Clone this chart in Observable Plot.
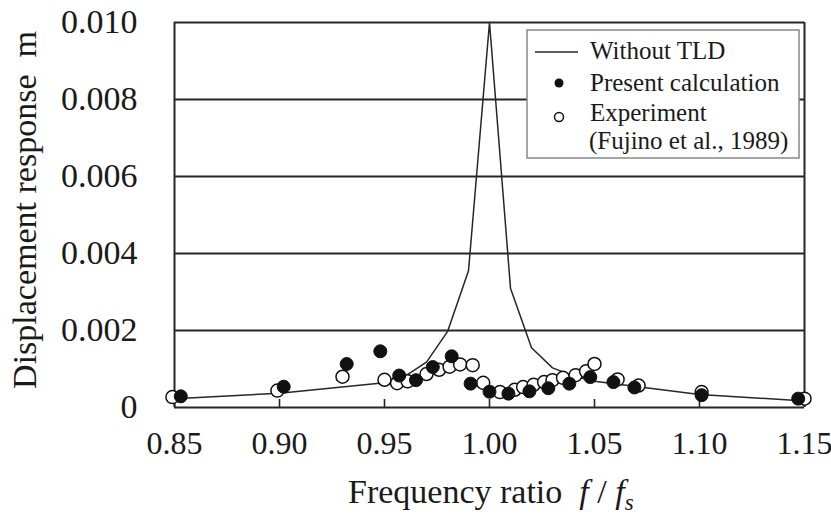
<!DOCTYPE html>
<html>
<head>
<meta charset="utf-8">
<script src="https://cdn.jsdelivr.net/npm/d3@7"></script>
<script src="https://cdn.jsdelivr.net/npm/@observablehq/plot@0.6"></script>
<style>
  html, body { margin: 0; padding: 0; background: #fff; }
  #chart { width: 831px; height: 516px; }
  #chart svg, #chart svg text { font-family: 'Liberation Serif', 'Times New Roman', Times, serif !important; }
</style>
</head>
<body>
<div id="chart"></div>
<script>
// ---- data ----
const xTicks = [0.85, 0.90, 0.95, 1.00, 1.05, 1.10, 1.15];
const yTicks = [0, 0.002, 0.004, 0.006, 0.008, 0.010];

// Without TLD (line)
const noTldRatio = [0.85, 0.90, 0.95, 0.96, 0.97, 0.98, 0.99, 1.00, 1.01, 1.02, 1.03, 1.04, 1.05, 1.10, 1.15];
const noTldDisp  = [0.00023, 0.00037, 0.00064, 0.00082, 0.00118, 0.00197, 0.00355, 0.01000, 0.00310, 0.00155, 0.00103, 0.00082, 0.00068, 0.00034, 0.00017];

// Present calculation (filled circles)
const calcRatio = [0.853, 0.902, 0.932, 0.948, 0.957, 0.965, 0.973, 0.982, 0.991, 1.000, 1.009, 1.019, 1.028, 1.038, 1.048, 1.059, 1.069, 1.101, 1.147];
const calcDisp  = [0.00029, 0.00054, 0.00113, 0.00146, 0.00083, 0.00071, 0.00105, 0.00133, 0.00062, 0.00041, 0.00036, 0.00042, 0.00050, 0.00062, 0.00079, 0.00066, 0.00052, 0.00032, 0.00023];

// Experiment (Fujino et al., 1989) (open circles)
const expRatio = [0.849, 0.899, 0.930, 0.950, 0.956, 0.961, 0.970, 0.976, 0.981, 0.986, 0.992, 0.997, 1.005, 1.012, 1.016, 1.021, 1.026, 1.030, 1.035, 1.041, 1.046, 1.050, 1.061, 1.071, 1.101, 1.150];
const expDisp  = [0.00027, 0.00044, 0.00080, 0.00072, 0.00063, 0.00068, 0.00087, 0.00098, 0.00106, 0.00112, 0.00110, 0.00064, 0.00040, 0.00046, 0.00053, 0.00059, 0.00066, 0.00071, 0.00077, 0.00084, 0.00094, 0.00113, 0.00073, 0.00057, 0.00040, 0.00023];

const legendLabels = ["Without TLD", "Present calculation", "Experiment", "(Fujino et al., 1989)"];
const yTitle = "Displacement response  m";

const noTld = noTldRatio.map((x, i) => ({x, y: noTldDisp[i]}));
const calc = calcRatio.map((x, i) => ({x, y: calcDisp[i]}));
const exp = expRatio.map((x, i) => ({x, y: expDisp[i]}));

const FONT = "'Liberation Serif', 'Times New Roman', Times, serif";
const INK = "#1a1a1a";
const LINE = "#262626";

const chart = Plot.plot({
  width: 831,
  height: 516,
  marginLeft: 174,
  marginRight: 27,
  marginTop: 22,
  marginBottom: 109,
  style: { fontFamily: FONT, fontSize: "33px", color: INK, background: "#fff", overflow: "visible" },
  x: { domain: [0.85, 1.15] },
  y: { domain: [0, 0.010] },
  marks: [
    Plot.ruleY(yTicks.slice(1), { stroke: LINE, strokeWidth: 1.8 }),
    Plot.ruleY([0], { stroke: LINE, strokeWidth: 2 }),
    Plot.ruleX([0.85, 1.15], { stroke: LINE, strokeWidth: 2 }),
    Plot.tickX(xTicks, { x: d => d, insetTop: 377, stroke: LINE, strokeWidth: 1.6 }),
    Plot.axisY(yTicks, {
      tickSize: 0, tickPadding: 37, fontSize: 34, fontFamily: FONT,
      tickFormat: d => d === 0 ? "0" : d.toFixed(3),
      label: null
    }),
    Plot.axisX(xTicks, {
      tickSize: 0, tickPadding: 24, fontSize: 32, fontFamily: FONT,
      tickFormat: d => d.toFixed(2), label: null
    }),
    Plot.line(noTld, { x: "x", y: "y", stroke: LINE, strokeWidth: 1.5 }),
    Plot.dot(exp, { x: "x", y: "y", r: 6.5, fill: "#fff", stroke: "#111", strokeWidth: 1.5 }),
    Plot.dot(calc, { x: "x", y: "y", r: 6.5, fill: "#111", stroke: "#111", strokeWidth: 1 })
  ]
});

document.getElementById("chart").appendChild(chart);

const svg = d3.select(chart);

// ---- y-axis title ----
svg.append("text")
  .attr("transform", "translate(36,210) rotate(-90)")
  .attr("text-anchor", "middle")
  .attr("font-family", FONT).attr("font-size", 34).attr("fill", INK)
  .style("white-space", "pre")
  .text(yTitle);

// ---- x-axis title with italic f / f_s ----
const xt = svg.append("text")
  .attr("x", 348).attr("y", 503).attr("text-anchor", "start")
  .attr("font-family", FONT).attr("font-size", 34).attr("fill", INK)
  .style("white-space", "pre");
xt.append("tspan").text("Frequency ratio  ");
xt.append("tspan").attr("font-style", "italic").text("f");
xt.append("tspan").text(" / ");
xt.append("tspan").attr("font-style", "italic").text("f");
xt.append("tspan").attr("font-style", "italic").attr("font-size", 23).attr("dy", 7).text("s");

// ---- legend ----
const lg = svg.append("g").attr("font-family", FONT).attr("font-size", 25).attr("fill", INK).attr("text-anchor", "start");
lg.append("rect").attr("x", 527).attr("y", 30).attr("width", 272).attr("height", 128)
  .attr("fill", "#fff").attr("stroke", "#888").attr("stroke-width", 1.5);
lg.append("line").attr("x1", 535).attr("x2", 578).attr("y1", 52).attr("y2", 52)
  .attr("stroke", LINE).attr("stroke-width", 1.5);
lg.append("circle").attr("cx", 559).attr("cy", 83).attr("r", 4.5).attr("fill", "#111");
lg.append("circle").attr("cx", 559).attr("cy", 117).attr("r", 4.5).attr("fill", "#fff").attr("stroke", "#111").attr("stroke-width", 1.5);
lg.append("text").attr("x", 590).attr("y", 59).text(legendLabels[0]);
lg.append("text").attr("x", 590).attr("y", 91).text(legendLabels[1]);
lg.append("text").attr("x", 590).attr("y", 121).text(legendLabels[2]);
lg.append("text").attr("x", 589).attr("y", 149).text(legendLabels[3]);
</script>
</body>
</html>
